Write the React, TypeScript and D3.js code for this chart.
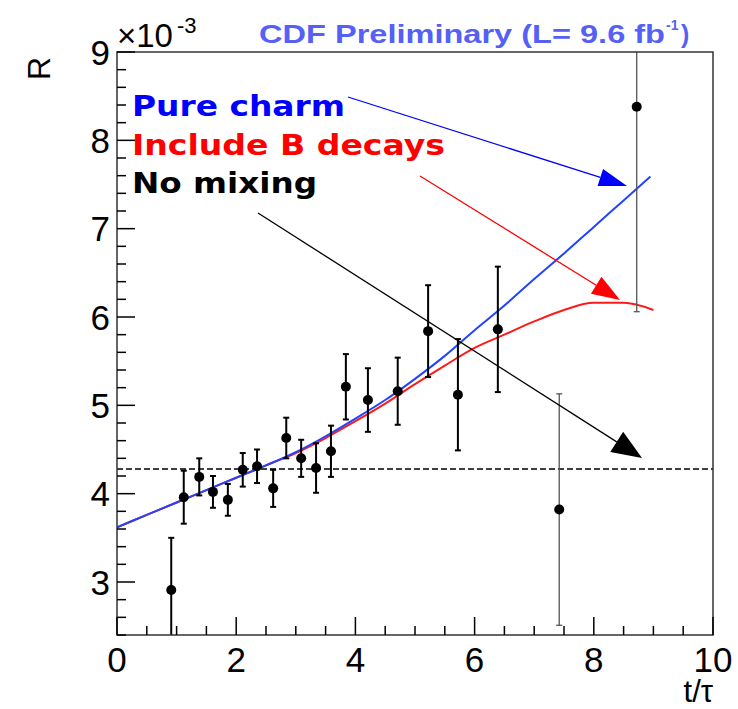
import React from "react";
import * as d3 from "d3";

// Data points (t/tau, R in units of 1e-3, symmetric error)
const tValues = [0.91, 1.12, 1.38, 1.61, 1.86, 2.11, 2.35, 2.62, 2.84, 3.09, 3.34, 3.59, 3.84, 4.21, 4.71, 5.22, 5.72, 6.39, 7.42, 8.72];
const rValues = [2.91, 3.96, 4.19, 4.02, 3.93, 4.27, 4.31, 4.06, 4.63, 4.40, 4.29, 4.48, 5.21, 5.06, 5.16, 5.84, 5.12, 5.86, 3.82, 8.38];
const rErrors = [0.59, 0.30, 0.21, 0.18, 0.18, 0.19, 0.19, 0.21, 0.23, 0.21, 0.28, 0.29, 0.37, 0.36, 0.38, 0.52, 0.63, 0.71, 1.31, 2.32];

// Model curves
const curveT = [0, 0.5, 1, 1.5, 2, 2.5, 3, 3.5, 4, 4.5, 5, 5.5, 6, 6.5, 7, 7.5, 8, 8.5, 8.95];
const pureCharm = [3.62, 3.76, 3.9, 4.04, 4.18, 4.32, 4.47, 4.65, 4.85, 5.06, 5.3, 5.56, 5.85, 6.13, 6.43, 6.72, 7.02, 7.32, 7.59];
const curveTB = [0, 0.5, 1, 1.5, 2, 2.5, 3, 3.5, 4, 4.5, 5, 5.5, 6, 6.5, 7, 7.5, 8, 8.5, 9];
const includeB = [3.62, 3.76, 3.9, 4.04, 4.18, 4.32, 4.46, 4.63, 4.82, 5.02, 5.24, 5.45, 5.65, 5.8, 5.95, 6.08, 6.16, 6.16, 6.08];
const noMixing = 4.28;

const xTicks = [0, 2, 4, 6, 8, 10];
const yTicks = [3, 4, 5, 6, 7, 8, 9];

const W = 738, H = 709;
const L = 117, R = 713, T = 52, B = 635;

export default function App() {
  const x = d3.scaleLinear().domain([0, 10]).range([L, R]);
  const y = d3.scaleLinear().domain([2.4, 9]).range([B, T]);

  const xMinor = d3.range(0, 10.001, 0.5).filter((v) => Math.abs(v / 2 - Math.round(v / 2)) > 1e-6);
  const yMinor = d3.range(2.4, 9.001, 0.2).filter((v) => Math.abs(v - Math.round(v)) > 1e-6);

  const lineBlue = d3.line<number>().x((_, i) => x(curveT[i])).y((d) => y(d)).curve(d3.curveMonotoneX);
  const lineRed = d3.line<number>().x((_, i) => x(curveTB[i])).y((d) => y(d)).curve(d3.curveMonotoneX);

  const arrow = (x1: number, y1: number, x2: number, y2: number, len: number, hw: number, color: string, key: string) => {
    const dx = x2 - x1, dy = y2 - y1;
    const d = Math.hypot(dx, dy);
    const ux = dx / d, uy = dy / d;
    const bx = x2 - ux * len, by = y2 - uy * len;
    const px = -uy, py = ux;
    const pts = `${x2},${y2} ${bx + px * hw},${by + py * hw} ${bx - px * hw},${by - py * hw}`;
    return (
      <g key={key}>
        <line x1={x1} y1={y1} x2={bx} y2={by} stroke={color} strokeWidth={1.3} />
        <polygon points={pts} fill={color} />
      </g>
    );
  };

  return (
    <svg width={W} height={H} style={{ position: "absolute", left: 0, top: 0, background: "#fff" }} fontFamily="'Liberation Sans', Arial, sans-serif">
      <rect x={0} y={0} width={W} height={H} fill="#fff" />
      <defs>
        <clipPath id="plotclip">
          <rect x={L} y={T} width={R - L} height={B - T} />
        </clipPath>
      </defs>

      {/* dashed no-mixing line */}
      <line x1={L} x2={R} y1={y(noMixing)} y2={y(noMixing)} stroke="#000" strokeWidth={1.5} strokeDasharray="6,3" />

      {/* curves */}
      <g clipPath="url(#plotclip)">
        <path d={lineRed(includeB) || ""} fill="none" stroke="#ff1a1a" strokeWidth={2} />
        <path d={lineBlue(pureCharm) || ""} fill="none" stroke="#2244ff" strokeWidth={2} />
      </g>

      {/* data points */}
      <g clipPath="url(#plotclip)">
        {tValues.map((t, i) => {
          const big = rErrors[i] > 1;
          const cx = x(t);
          const yl = y(rValues[i] - rErrors[i]);
          const yh = y(rValues[i] + rErrors[i]);
          const col = big ? "#555" : "#000";
          const sw = big ? 1.3 : 2;
          return (
            <g key={i}>
              <line x1={cx} x2={cx} y1={yl} y2={yh} stroke={col} strokeWidth={sw} />
              <line x1={cx - 3} x2={cx + 3} y1={yl} y2={yl} stroke={col} strokeWidth={sw} />
              <line x1={cx - 3} x2={cx + 3} y1={yh} y2={yh} stroke={col} strokeWidth={sw} />
              <circle cx={cx} cy={y(rValues[i])} r={5} fill="#000" />
            </g>
          );
        })}
      </g>

      {/* frame */}
      <rect x={L} y={T} width={R - L} height={B - T} fill="none" stroke="#333" strokeWidth={1.5} />

      {/* x ticks */}
      {xTicks.map((v) => (
        <g key={"xt" + v}>
          <line x1={x(v)} x2={x(v)} y1={B} y2={B - 18} stroke="#000" strokeWidth={1.5} />
          <text x={x(v)} y={672} fontSize={35} textAnchor="middle" fill="#000">{v}</text>
        </g>
      ))}
      {xMinor.map((v) => (
        <line key={"xm" + v} x1={x(v)} x2={x(v)} y1={B} y2={B - 9} stroke="#000" strokeWidth={1.5} />
      ))}

      {/* y ticks */}
      {yTicks.map((v) => (
        <g key={"yt" + v}>
          <line x1={L} x2={L + 18} y1={y(v)} y2={y(v)} stroke="#000" strokeWidth={1.5} />
          <text x={110} y={y(v) + 12.5} fontSize={35} textAnchor="end" fill="#000">{v}</text>
        </g>
      ))}
      {yMinor.map((v) => (
        <line key={"ym" + v.toFixed(1)} x1={L} x2={L + 9} y1={y(v)} y2={y(v)} stroke="#000" strokeWidth={1.5} />
      ))}

      {/* exponent */}
      <text x={117} y={47} fontSize={33} fill="#000">×10</text>
      <text x={177} y={33} fontSize={22} fill="#000">-3</text>

      {/* axis titles */}
      <text transform="translate(50,57) rotate(-90)" fontSize={32} textAnchor="end" fill="#000">R</text>
      <text x={713} y={702} fontSize={31} textAnchor="end" fill="#000">t/τ</text>

      {/* CDF title */}
      <text x={259} y={43} fontSize={25} fontWeight="bold" fill="#5560f5" textLength={406} lengthAdjust="spacingAndGlyphs">CDF  Preliminary  (L= 9.6 fb</text>
      <text x={666} y={30} fontSize={14} fontWeight="bold" fill="#5560f5">-1</text>
      <text x={681} y={43} fontSize={25} fontWeight="bold" fill="#5560f5">)</text>

      {/* legend */}
      <g fontFamily="'DejaVu Sans', sans-serif" fontWeight="bold" fontSize={29}>
        <text x={132} y={116} fill="#0000ff" textLength={213} lengthAdjust="spacingAndGlyphs">Pure charm</text>
        <text x={132} y={155} fill="#ff0000" textLength={313} lengthAdjust="spacingAndGlyphs">Include B decays</text>
        <text x={132} y={193} fill="#000" textLength={185} lengthAdjust="spacingAndGlyphs">No mixing</text>
      </g>

      {/* arrows */}
      {arrow(348, 97, 627, 186, 28, 9, "#0000ff", "a1")}
      {arrow(420, 176, 620, 300, 28, 10, "#ff0000", "a2")}
      {arrow(258, 213, 642, 458, 30, 12, "#000", "a3")}
    </svg>
  );
}
